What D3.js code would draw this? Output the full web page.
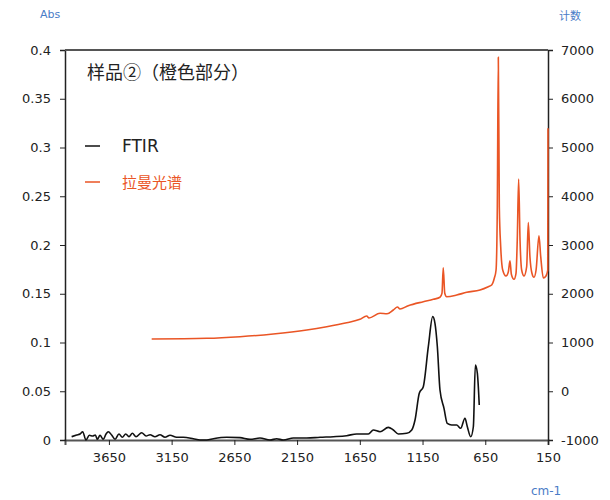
<!DOCTYPE html>
<html lang="zh">
<head>
<meta charset="UTF-8">
<title>样品② FTIR / 拉曼光谱</title>
<style>
    body { margin: 0; background: #fff; }
    text { font-family: "DejaVu Sans", Verdana, sans-serif; }
    .cjk { font-family: "Noto Sans CJK SC", sans-serif; }
</style>
</head>
<body>
<div id="chart"></div>
<script src="https://d3js.org/d3.v7.min.js"></script>
<script>
// FTIR absorbance: [wavenumber cm-1, Abs]
const ftirData = [
    [3947, 0.0034], [3907, 0.0051], [3880, 0.0062], [3859, 0.0085], [3833, 0.0000],
    [3806, 0.0048], [3779, 0.0041], [3758, 0.0051], [3742, 0.0007], [3721, 0.0048],
    [3695, 0.0007], [3673, 0.0062], [3655, 0.0085], [3628, 0.0051], [3601, 0.0007],
    [3570, 0.0062], [3543, 0.0028], [3516, 0.0062], [3490, 0.0034], [3463, 0.0069],
    [3434, 0.0034], [3389, 0.0075], [3354, 0.0041], [3322, 0.0054], [3283, 0.0034],
    [3243, 0.0054], [3203, 0.0028], [3163, 0.0048], [3110, 0.0028], [3057, 0.0028],
    [2977, 0.0013], [2924, 0.0000], [2870, 0.0000], [2818, 0.0013], [2711, 0.0028],
    [2605, 0.0024], [2525, 0.0007], [2446, 0.0020], [2366, 0.0000], [2313, 0.0013],
    [2260, 0.0000], [2180, 0.0020], [2073, 0.0020], [1967, 0.0028], [1861, 0.0034],
    [1755, 0.0044], [1675, 0.0062], [1582, 0.0062], [1542, 0.0103], [1489, 0.0085],
    [1423, 0.0130], [1383, 0.0103], [1343, 0.0062], [1276, 0.0069], [1236, 0.0103],
    [1210, 0.0205], [1176, 0.0479], [1144, 0.0547], [1104, 0.0957], [1069, 0.1265],
    [1051, 0.1197], [1032, 0.0957], [1011, 0.0513], [979, 0.0325], [953, 0.0171],
    [918, 0.0154], [878, 0.0154], [846, 0.0120], [812, 0.0223], [793, 0.0136],
    [766, 0.0034], [745, 0.0136], [729, 0.0769], [713, 0.0684], [698, 0.0359]
];

// Raman counts: [wavenumber cm-1, counts]
const ramanData = [
    [3309, 1072], [2871, 1086], [2605, 1119], [2340, 1174], [2073, 1256],
    [1914, 1324], [1755, 1406], [1649, 1476], [1595, 1544], [1577, 1503],
    [1489, 1599], [1433, 1591], [1383, 1667], [1350, 1728], [1330, 1687],
    [1264, 1755], [1144, 1837], [1064, 1886], [1011, 1927], [995, 2009],
    [985, 2534], [973, 2009], [958, 1940], [878, 1974], [798, 2030],
    [692, 2077], [626, 2145], [599, 2180], [578, 2317], [564, 2487],
    [554, 3786], [546, 6850], [538, 3786], [527, 2965], [511, 2487],
    [485, 2364], [466, 2453], [453, 2678], [442, 2400], [421, 2296],
    [405, 2420], [395, 3103], [384, 4354], [373, 3103], [360, 2487],
    [341, 2364], [320, 2555], [307, 3458], [294, 2760], [278, 2420],
    [262, 2337], [245, 2487], [222, 3191], [208, 2760], [187, 2323],
    [166, 2364], [152, 2487], [150, 5394]
];

const xTicks = [3650, 3150, 2650, 2150, 1650, 1150, 650, 150];
const absTicks = [0, 0.05, 0.1, 0.15, 0.2, 0.25, 0.3, 0.35, 0.4];
const countTicks = [-1000, 0, 1000, 2000, 3000, 4000, 5000, 6000, 7000];

const W = 610, H = 500;
const margin = { top: 50, right: 62, bottom: 60, left: 65 };
const width = W - margin.left - margin.right,
      height = H - margin.top - margin.bottom;

const orange = "#ea5525";
const blue = "#4a7cc7";

const svg = d3.select("#chart").append("svg")
    .attr("width", W).attr("height", H);

const g = svg.append("g")
    .attr("transform", `translate(${margin.left},${margin.top})`);

const x = d3.scaleLinear().domain([4000, 150]).range([0, width]);
const yL = d3.scaleLinear().domain([0, 0.4]).range([height, 0]);
const yR = d3.scaleLinear().domain([-1000, 7000]).range([height, 0]);

// axes
const axisX = g.append("g")
    .attr("transform", `translate(0,${height})`)
    .call(d3.axisBottom(x).tickValues(xTicks).tickFormat(d => String(d))
        .tickSizeOuter(0).tickSize(5).tickPadding(8));
const axisL = g.append("g")
    .call(d3.axisLeft(yL).tickValues(absTicks).tickFormat(d => String(+d.toFixed(2)))
        .tickSizeOuter(0).tickSize(5).tickPadding(9));
const axisR = g.append("g")
    .attr("transform", `translate(${width},0)`)
    .call(d3.axisRight(yR).tickValues(countTicks).tickFormat(d => String(d))
        .tickSizeOuter(0).tickSize(5).tickPadding(8));

[axisX, axisL, axisR].forEach(a => {
    a.selectAll("text").style("font-size", "13px").attr("fill", "#222");
    a.selectAll("line").attr("stroke", "#222");
    a.select(".domain").attr("stroke", "#222").attr("stroke-width", 1.5);
});
axisX.select(".domain").attr("stroke", "#555").attr("stroke-width", 2);

// top frame line
g.append("line")
    .attr("x1", 0).attr("x2", width)
    .attr("y1", 0).attr("y2", 0)
    .attr("stroke", "#555").attr("stroke-width", 2);

// series
g.append("path")
    .datum(ramanData)
    .attr("fill", "none")
    .attr("stroke", orange)
    .attr("stroke-width", 1.6)
    .attr("d", d3.line().curve(d3.curveMonotoneX).x(d => x(d[0])).y(d => yR(d[1])));

g.append("path")
    .datum(ftirData)
    .attr("fill", "none")
    .attr("stroke", "#111")
    .attr("stroke-width", 1.6)
    .attr("d", d3.line().curve(d3.curveMonotoneX).x(d => x(d[0])).y(d => yL(d[1])));

// title
svg.append("text").attr("class", "cjk")
    .attr("x", 87).attr("y", 79)
    .style("font-size", "18px").attr("fill", "#222")
    .text("样品②（橙色部分）");

// legend
const legend = [
    { name: "FTIR", color: "#111", y: 146, cjk: false },
    { name: "拉曼光谱", color: orange, y: 182, cjk: true }
];
legend.forEach(l => {
    svg.append("line")
        .attr("x1", 85).attr("x2", 100)
        .attr("y1", l.y).attr("y2", l.y)
        .attr("stroke", l.color).attr("stroke-width", 1.5);
    svg.append("text")
        .attr("class", l.cjk ? "cjk" : null)
        .attr("x", 122).attr("y", l.y + 6)
        .style("font-size", l.cjk ? "15px" : "17px")
        .attr("fill", l.color === "#111" ? "#222" : l.color)
        .text(l.name);
});

// unit labels
svg.append("text").attr("x", 40).attr("y", 18)
    .style("font-size", "11px").attr("fill", blue).text("Abs");
svg.append("text").attr("class", "cjk").attr("x", 559).attr("y", 20)
    .style("font-size", "11px").attr("fill", blue).text("计数");
svg.append("text").attr("x", 531).attr("y", 495)
    .style("font-size", "12px").attr("fill", blue).text("cm-1");
</script>
</body>
</html>
